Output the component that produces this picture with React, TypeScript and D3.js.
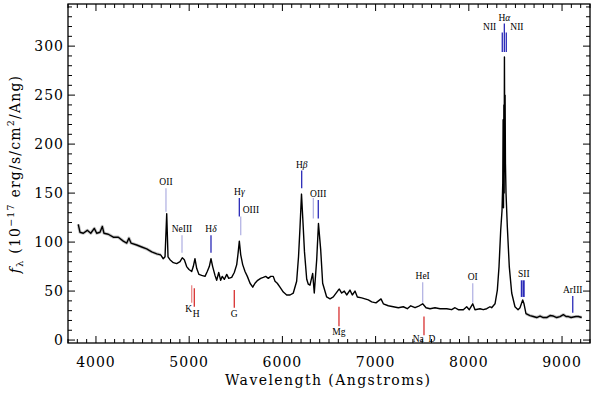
import React from "react";
import * as d3 from "d3";

const wavelength = [
  3810, 3829, 3864, 3907, 3944, 3982, 4008, 4043, 4068, 4086, 4132, 4186, 4240, 4293, 4330, 4354, 4376, 4437,
  4491, 4544, 4598, 4652, 4694, 4722, 4741, 4759, 4773, 4794, 4830, 4866, 4902, 4926, 4948, 4973, 4998, 5027,
  5044, 5062, 5081, 5105, 5134, 5170, 5194, 5216, 5234, 5252, 5277, 5295, 5317, 5338, 5355, 5377, 5403, 5424,
  5456, 5484, 5510, 5524, 5538, 5553, 5574, 5599, 5624, 5653, 5682, 5706, 5735, 5767, 5795, 5821, 5849, 5875,
  5902, 5921, 5945, 5974, 6010, 6046, 6082, 6117, 6153, 6173, 6189, 6205, 6221, 6237, 6261, 6278, 6296, 6325,
  6342, 6368, 6387, 6411, 6432, 6475, 6511, 6546, 6600, 6611, 6636, 6664, 6690, 6725, 6750, 6779, 6804, 6851,
  6886, 6922, 6958, 7004, 7058, 7083, 7136, 7190, 7244, 7297, 7340, 7377, 7423, 7469, 7505, 7541, 7584, 7637,
  7691, 7763, 7816, 7852, 7887, 7941, 7977, 8005, 8042, 8066, 8120, 8155, 8192, 8227, 8245, 8281, 8306, 8324,
  8342, 8356, 8364, 8368, 8372, 8376, 8379, 8382, 8385, 8389, 8393, 8399, 8413, 8434, 8460, 8495, 8528, 8549,
  8578, 8592, 8613, 8656, 8692, 8728, 8764, 8799, 8835, 8871, 8907, 8943, 8978, 9014, 9043, 9068, 9097, 9122,
  9150, 9175, 9211,
];
const flux = [
  118, 110, 109, 112, 109, 114, 109, 110, 116, 109, 108, 105, 105, 101, 99, 104, 99, 97,
  95, 93, 90, 88, 87, 83, 85, 129, 85, 82, 79, 78, 80, 84, 82, 75, 72, 70,
  75, 83, 73, 67, 66, 65, 70, 75, 83, 75, 66, 61, 69, 61, 65, 62, 67, 63,
  64, 69, 77, 88, 101, 87, 77, 70, 65, 58, 54, 58, 61, 63, 64, 65, 63, 65,
  65, 60, 58, 54, 49, 46, 46, 48, 60, 85, 115, 149, 120, 90, 62, 57, 56, 68,
  48, 82, 119, 92, 58, 44, 42, 44, 51, 52, 48, 50, 46, 51, 46, 50, 44, 43,
  42, 41, 39, 38, 42, 37, 35, 34, 33, 34, 32, 35, 33, 35, 37, 33, 32, 33,
  32, 32, 31, 33, 31, 31, 34, 31, 37, 31, 32, 31, 32, 34, 33, 37, 51, 75,
  112, 132, 160, 225, 135, 240, 150, 289, 215, 250, 180, 150, 116, 75, 48, 34, 31, 33,
  41, 37, 27, 25, 24, 23, 24.5, 23, 23, 25, 24.5, 23, 24, 26, 24, 24, 23, 23.5,
  24, 24, 23,
];
// stretches where the grey error band shows
const noisyRanges = [
  [3800, 4700],
  [8600, 9220],
];

// line identifications (observed wavelength, marker extent in flux units)
const lineNames = [
  "OII", "NeIII", "Hδ", "Hγ", "OIII", "Hβ", "", "OIII", "HeI", "OI",
  "NII", "Hα", "NII", "", "SII", "ArIII", "K", "H", "G", "Mg", "Na D",
];
const lineWaves = [
  4751, 4923, 5234, 5538, 5553, 6207, 6332, 6385, 7505, 8042,
  8359, 8381, 8402, 8567, 8590, 9115, 5027, 5055, 5484, 6607, 7519,
];
const lineTops = [
  155, 107, 107, 145, 126, 173, 145, 143, 59, 58,
  314, 323, 314, 61, 61, 45, 56, 53, 51, 34, 24,
];
const lineBottoms = [
  131, 89, 89, 126, 107, 155, 124, 124, 38, 38,
  294, 294, 294, 44, 44, 28, 38, 34, 33, 14, 5,
];
const lineKinds = [
  "weak", "weak", "strong", "strong", "weak", "strong", "weak", "strong", "weak", "weak",
  "strong", "strong", "strong", "strong", "strong", "strong", "absFaint", "abs", "abs", "abs", "abs",
];

const xTicks = [4000, 5000, 6000, 7000, 8000, 9000];
const yTicks = [0, 50, 100, 150, 200, 250, 300];

const kindColor: Record<string, string> = {
  strong: "#2a2ab8",
  weak: "#b4b4e4",
  abs: "#d83030",
  absFaint: "#eb8a8a",
};

const W = 594;
const H = 394;
const L = 68, R = 590, T = 4, B = 343;

const serif = "'DejaVu Serif', serif";
const small = "'Liberation Serif', serif";

function Greekish({ text }: { text: string }) {
  // put the greek letter in italics
  const m = text.match(/^H([αβγδ])$/);
  if (!m) return <>{text}</>;
  return (
    <>
      H<tspan fontStyle="italic">{m[1]}</tspan>
    </>
  );
}

export default function App() {
  const x = d3.scaleLinear().domain([3700, 9300]).range([L, R]);
  const y = d3.scaleLinear().domain([-3, 343]).range([B, T]);

  const pts = wavelength.map((w, i) => [w, flux[i]] as [number, number]);
  const line = d3
    .line<[number, number]>()
    .x((d) => x(d[0]))
    .y((d) => y(d[1]));

  const xMinor = d3.range(3700, 9301, 100);
  const yMinor = d3.range(0, 341, 10);

  // label placement per marker: above / below / left / right / none
  const place = (i: number) => {
    const n = lineNames[i];
    if (!n) return "none";
    if (lineKinds[i].startsWith("abs")) return "below";
    if (i === 4 || i === 12) return "right";
    if (i === 10) return "left";
    return "above";
  };

  return (
    <svg
      width={W}
      height={H}
      style={{ position: "absolute", left: 0, top: 0, background: "#fff" }}
    >
      {/* error band */}
      {noisyRanges.map(([a, b], k) => (
        <path
          key={k}
          d={line(pts.filter((p) => p[0] >= a && p[0] <= b)) || ""}
          fill="none"
          stroke="#c8c8c8"
          strokeWidth={3.2}
          strokeLinejoin="round"
        />
      ))}
      <path d={line(pts) || ""} fill="none" stroke="#000" strokeWidth={1.4} strokeLinejoin="round" />

      {/* line markers */}
      {lineWaves.map((w, i) => {
        const lx = x(w);
        const y0 = y(lineTops[i]);
        const y1 = y(lineBottoms[i]);
        const p = place(i);
        const col = kindColor[lineKinds[i]];
        let tx = lx, ty = y0 - 3, anchor = "middle";
        if (p === "below") {
          ty = lineNames[i] === "Na D" ? y1 + 7 : y1 + 9;
          if (lineNames[i] === "K") tx = lx - 3;
          if (lineNames[i] === "H") { tx = lx + 2; ty = y1 + 10; }
        } else if (p === "right") {
          tx = lx + (i === 4 ? 2 : 4);
          ty = i === 4 ? y0 - 4 : y0 - 2;
          anchor = "start";
        } else if (p === "left") {
          tx = lx - 6;
          ty = y0 - 2;
          anchor = "end";
        }
        return (
          <g key={i}>
            <line x1={lx} x2={lx} y1={y0} y2={y1} stroke={col} strokeWidth={lineNames[i] === "SII" || (i === 13) ? 1.8 : 1.3} />
            {p !== "none" && (
              <text x={tx} y={ty} textAnchor={anchor} fontFamily={small} fontSize={9.5} fill="#000" xmlSpace="preserve">
                <Greekish text={lineNames[i] === "Na D" ? "Na  D" : lineNames[i]} />
              </text>
            )}
          </g>
        );
      })}

      {/* frame and ticks */}
      <rect x={L} y={T} width={R - L} height={B - T} fill="none" stroke="#000" strokeWidth={1.3} />
      {xMinor.map((v) => {
        const len = xTicks.includes(v) ? 7 : 4;
        return (
          <g key={"xm" + v} stroke="#000" strokeWidth={1}>
            <line x1={x(v)} x2={x(v)} y1={B} y2={B - len} />
            <line x1={x(v)} x2={x(v)} y1={T} y2={T + len} />
          </g>
        );
      })}
      {yMinor.map((v) => {
        const len = yTicks.includes(v) ? 7 : 4;
        return (
          <g key={"ym" + v} stroke="#000" strokeWidth={1}>
            <line x1={L} x2={L + len} y1={y(v)} y2={y(v)} />
            <line x1={R} x2={R - len} y1={y(v)} y2={y(v)} />
          </g>
        );
      })}
      {xTicks.map((v) => (
        <text key={"xl" + v} x={x(v)} y={367} textAnchor="middle" fontFamily={serif} fontSize={14} letterSpacing={1}>
          {v}
        </text>
      ))}
      {yTicks.map((v) => (
        <text key={"yl" + v} x={64} y={y(v)} dy="0.36em" textAnchor="end" fontFamily={serif} fontSize={14} letterSpacing={1}>
          {v}
        </text>
      ))}

      {/* axis titles */}
      <text x={327.5} y={385} textAnchor="middle" fontFamily={serif} fontSize={14} textLength={205} lengthAdjust="spacing">
        Wavelength (Angstroms)
      </text>
      <text
        transform="translate(20,174) rotate(-90)"
        textAnchor="middle"
        fontFamily={serif}
        fontSize={14}
        letterSpacing={1.2}
      >
        <tspan fontStyle="italic">f</tspan>
        <tspan fontSize={10} dy={3}>λ</tspan>
        <tspan dy={-3}> (10</tspan>
        <tspan fontSize={9.5} dy={-6}>−17</tspan>
        <tspan dy={6}> erg/s/cm</tspan>
        <tspan fontSize={9.5} dy={-6}>2</tspan>
        <tspan dy={6}>/Ang)</tspan>
      </text>
    </svg>
  );
}
